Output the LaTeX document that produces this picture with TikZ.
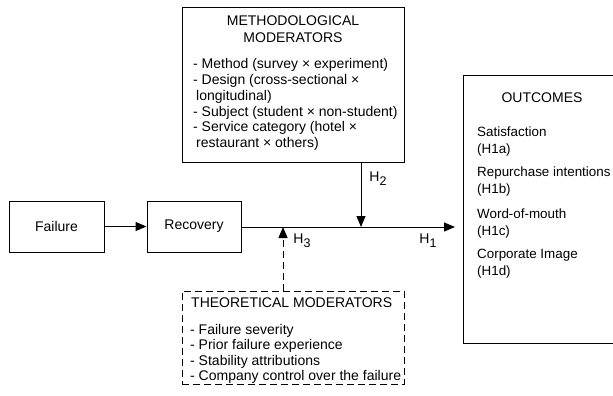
\documentclass[tikz,border=0pt]{standalone}
\usepackage{fontspec}
\setmainfont{Liberation Sans}
\usetikzlibrary{arrows.meta}
\newcommand{\Hsub}[1]{H\raisebox{-0.5ex}{\fontsize{12.5}{12.5}\selectfont #1}}
\begin{document}
\begin{tikzpicture}[x=1pt,y=-1pt,
  font=\fontsize{14}{16}\selectfont,
  box/.style={draw, line width=1pt, inner sep=0pt},
  dbox/.style={box, dash pattern=on 7pt off 4pt},
  txt/.style={anchor=west, inner sep=0pt, text height=10pt, text depth=3pt},
  ctxt/.style={inner sep=0pt, text height=10pt, text depth=3pt},
  otxt/.style={txt, font=\fontsize{13.4}{16}\selectfont},
  arr/.style={line width=1pt, -{Triangle[length=11pt,width=9pt]}},
]
\useasboundingbox (0,0) rectangle (613,396);

% boxes
\node[box, minimum width=95pt, minimum height=51pt] (fail) at (56.5,226.5) {Failure};
\node[box, minimum width=94pt, minimum height=51pt] (rec) at (194,226.5) {Recovery};
\node[box, minimum width=222pt, minimum height=154pt] (meth) at (293,85) {};
\node[dbox, minimum width=222pt, minimum height=93pt] (theo) at (293,337.5) {};
\node[box, minimum width=157pt, minimum height=267pt] (out) at (541.5,209.5) {};

% methodological text
\node[ctxt] (m1) at (293,22) {METHODOLOGICAL};
\node[ctxt] (m2) at (293,39) {MODERATORS};
\node[txt] (m3) at (193,65) {- Method (survey × experiment)};
\node[txt] (m4) at (193,81) {- Design (cross-sectional ×};
\node[txt] (m5) at (196,97) {longitudinal)};
\node[txt] (m6) at (193,113) {- Subject (student × non-student)};
\node[txt] (m7) at (193,128) {- Service category (hotel ×};
\node[txt] (m8) at (196,144) {restaurant × others)};

% theoretical text
\node[txt] (t1) at (191,304) {THEORETICAL MODERATORS};
\node[txt] (t2) at (190,331) {- Failure severity};
\node[txt] (t3) at (190,346) {- Prior failure experience};
\node[txt] (t4) at (190,362) {- Stability attributions};
\node[txt] (t5) at (190,377) {- Company control over the failure};

% outcomes text
\node[ctxt] (o0) at (542,99) {OUTCOMES};
\node[otxt] (o1) at (477,133) {Satisfaction};
\node[otxt] (o2) at (477,150) {(H1a)};
\node[otxt] (o3) at (477,173) {Repurchase intentions};
\node[otxt] (o4) at (477,190) {(H1b)};
\node[otxt] (o5) at (477,215) {Word-of-mouth};
\node[otxt] (o6) at (477,232) {(H1c)};
\node[otxt] (o7) at (477,255) {Corporate Image};
\node[otxt] (o8) at (477,272) {(H1d)};

% connectors
\coordinate (j3) at (283,227);
\coordinate (j2) at (361,227);
\coordinate (tip) at (455,227);
\draw[arr] (fail) -- (rec);
\draw[arr] (rec.east |- tip) -- (tip);
\draw[arr] (meth.south -| j2) -- (j2);
\draw[arr, dash pattern=on 7pt off 4pt] (theo.north -| j3) -- (j3);

% labels
\node[ctxt] (h2) at (378,178) {\Hsub{2}};
\node[ctxt] (h3) at (302,240) {\Hsub{3}};
\node[ctxt] (h1) at (428,240) {\Hsub{1}};
\end{tikzpicture}
\end{document}
